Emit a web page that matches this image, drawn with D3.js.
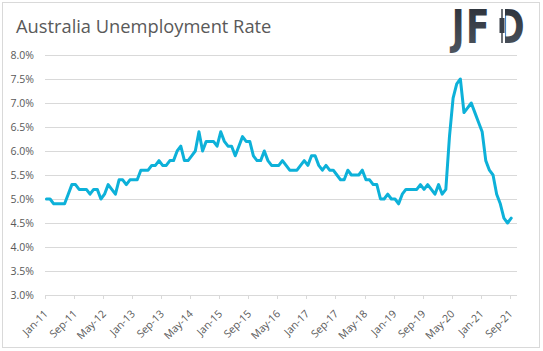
<!DOCTYPE html>
<html lang="en">
<head>
  <meta charset="UTF-8">
  <title>Australia Unemployment Rate</title>
  <script src="https://d3js.org/d3.v7.min.js"></script>
  <style>
    body {
      margin: 0;
      padding: 0;
      background: #fff;
    }
    svg {
      display: block;
      font-family: "Open Sans", sans-serif;
    }
  </style>
</head>
<body>
<svg id="chart" width="543" height="351"></svg>
<script>
const title = "Australia Unemployment Rate";
const startMonth = "Jan-11";
// monthly unemployment rate, Jan-11 .. Sep-21 (%)
const rate2011 = [5.0, 5.0, 4.9, 4.9, 4.9, 4.9, 5.1, 5.3, 5.3, 5.2, 5.2, 5.2];
const rate2012 = [5.1, 5.2, 5.2, 5.0, 5.1, 5.3, 5.2, 5.1, 5.4, 5.4, 5.3, 5.4];
const rate2013 = [5.4, 5.4, 5.6, 5.6, 5.6, 5.7, 5.7, 5.8, 5.7, 5.7, 5.8, 5.8];
const rate2014 = [6.0, 6.1, 5.8, 5.8, 5.9, 6.0, 6.4, 6.0, 6.2, 6.2, 6.2, 6.1];
const rate2015 = [6.4, 6.2, 6.1, 6.1, 5.9, 6.1, 6.3, 6.2, 6.2, 5.9, 5.8, 5.8];
const rate2016 = [6.0, 5.8, 5.7, 5.7, 5.7, 5.8, 5.7, 5.6, 5.6, 5.6, 5.7, 5.8];
const rate2017 = [5.7, 5.9, 5.9, 5.7, 5.6, 5.7, 5.6, 5.6, 5.5, 5.4, 5.4, 5.6];
const rate2018 = [5.5, 5.5, 5.5, 5.6, 5.4, 5.4, 5.3, 5.3, 5.0, 5.0, 5.1, 5.0];
const rate2019 = [5.0, 4.9, 5.1, 5.2, 5.2, 5.2, 5.2, 5.3, 5.2, 5.3, 5.2, 5.1];
const rate2020 = [5.3, 5.1, 5.2, 6.3, 7.1, 7.4, 7.5, 6.8, 6.9, 7.0, 6.8, 6.6];
const rate2021 = [6.4, 5.8, 5.6, 5.5, 5.1, 4.9, 4.6, 4.5, 4.6];

const xTickLabels = ["Jan-11", "Sep-11", "May-12", "Jan-13", "Sep-13", "May-14", "Jan-15",
  "Sep-15", "May-16", "Jan-17", "Sep-17", "May-18", "Jan-19", "Sep-19", "May-20", "Jan-21", "Sep-21"];
const yTicks = [3.0, 3.5, 4.0, 4.5, 5.0, 5.5, 6.0, 6.5, 7.0, 7.5, 8.0];

const rates = [].concat(rate2011, rate2012, rate2013, rate2014, rate2015, rate2016,
  rate2017, rate2018, rate2019, rate2020, rate2021);

const parseMonth = d3.timeParse("%b-%y");
const t0 = parseMonth(startMonth);
const monthIndex = s => d3.timeMonth.count(t0, parseMonth(s));
const data = rates.map((v, i) => ({i: i, v: v}));

const svg = d3.select("#chart");
const grey = "#595959";
const gridColor = "#d9d9d9";

// outer frame
svg.append("rect")
  .attr("x", 2.5).attr("y", 2.5)
  .attr("width", 537).attr("height", 345)
  .attr("fill", "#fff")
  .attr("stroke", gridColor);

svg.append("text")
  .attr("x", 16).attr("y", 33)
  .attr("fill", grey)
  .style("font-size", "18.3px")
  .text(title);

// logo: J F and a D whose stem is a candlestick
const grad = svg.append("defs").append("linearGradient")
  .attr("id", "logoGrad").attr("x1", 0).attr("y1", 0).attr("x2", 0).attr("y2", 1);
grad.append("stop").attr("offset", "0%").attr("stop-color", "#2a2f37");
grad.append("stop").attr("offset", "100%").attr("stop-color", "#4e5660");

const logo = svg.append("g").attr("transform", "translate(451,43) scale(0.75,1)");
logo.selectAll("text")
  .data([["J", 1], ["F", 20], ["D", 60]])
  .join("text")
  .attr("x", d => d[1])
  .attr("fill", "url(#logoGrad)")
  .style("font-family", "'DejaVu Sans', sans-serif")
  .style("font-weight", "bold")
  .style("font-size", "46px")
  .text(d => d[0]);
svg.append("rect")
  .attr("x", 497.5).attr("y", 7).attr("width", 7.5).attr("height", 38)
  .attr("fill", "#fff");
svg.append("line")
  .attr("x1", 502).attr("x2", 502).attr("y1", 9).attr("y2", 43)
  .attr("stroke", "#3a4049").attr("stroke-width", 1.5);
svg.append("rect")
  .attr("x", 499.5).attr("y", 18).attr("width", 5).attr("height", 15)
  .attr("fill", "#3a4049");

const x = d3.scaleLinear().domain([0, 130]).range([45, 517]);
const y = d3.scaleLinear().domain([3, 8]).range([295, 55]);

// gridlines
svg.append("g")
  .selectAll("line")
  .data(yTicks)
  .join("line")
  .attr("x1", x(0)).attr("x2", x(130))
  .attr("y1", d => Math.round(y(d)) + 0.5)
  .attr("y2", d => Math.round(y(d)) + 0.5)
  .attr("stroke", gridColor);

// y labels
svg.append("g")
  .selectAll("text")
  .data(yTicks)
  .join("text")
  .attr("x", 34)
  .attr("y", d => y(d))
  .attr("dy", "0.35em")
  .attr("text-anchor", "end")
  .attr("fill", grey)
  .style("font-size", "10.5px")
  .text(d => d.toFixed(1) + "%");

// x ticks and labels
const xg = svg.append("g");
xg.selectAll("line")
  .data(xTickLabels)
  .join("line")
  .attr("x1", d => Math.round(x(monthIndex(d))) + 0.5)
  .attr("x2", d => Math.round(x(monthIndex(d))) + 0.5)
  .attr("y1", y(3)).attr("y2", y(3) + 4)
  .attr("stroke", gridColor);
xg.selectAll("text")
  .data(xTickLabels)
  .join("text")
  .attr("transform", d => `translate(${x(monthIndex(d)) + 1},312) rotate(-45)`)
  .attr("dy", "0.35em")
  .attr("text-anchor", "end")
  .attr("fill", grey)
  .style("font-size", "10.5px")
  .text(d => d);

// series line
const line = d3.line()
  .x(d => x(d.i + 0.4))
  .y(d => y(d.v));
svg.append("path")
  .datum(data)
  .attr("d", line)
  .attr("fill", "none")
  .attr("stroke", "#0db1d9")
  .attr("stroke-width", 3)
  .attr("stroke-linejoin", "round")
  .attr("stroke-linecap", "round");
</script>
</body>
</html>
